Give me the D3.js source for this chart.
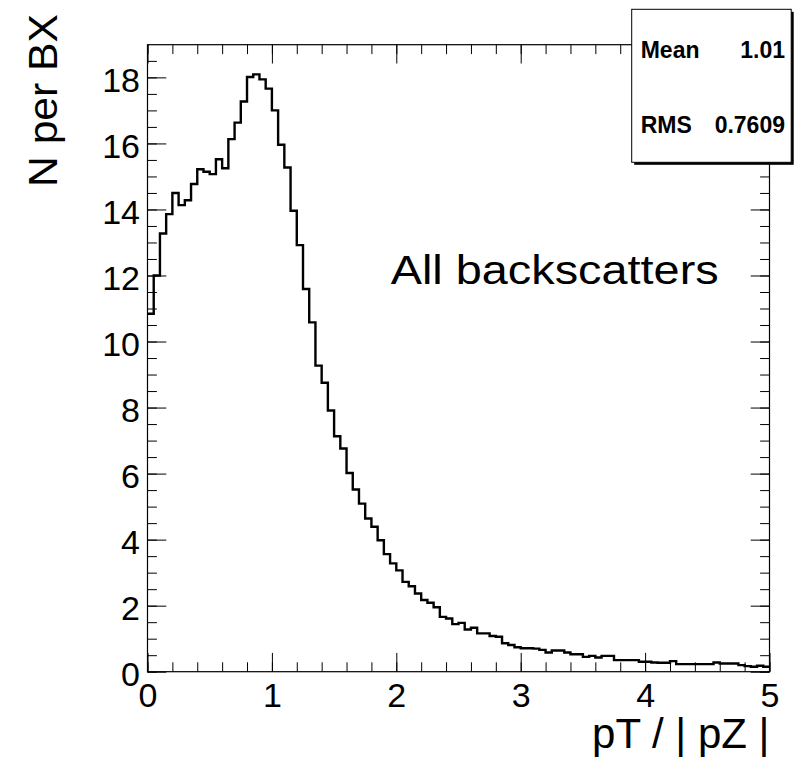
<!DOCTYPE html>
<html>
<head>
<meta charset="utf-8">
<script src="https://cdn.jsdelivr.net/npm/d3@7/dist/d3.min.js"></script>
<style>
  html, body { margin: 0; padding: 0; background: #fff; }
  svg { display: block; font-family: "Liberation Sans", Arial, Helvetica, sans-serif; }
</style>
</head>
<body>
<svg id="chart" width="796" height="767"></svg>
<script>
// Histogram of pT/|pZ| for all backscattered particles, 100 bins over [0, 5]
const xRange = [0, 5];
const counts = [
  10.84, 12.00, 13.27, 13.86, 14.50, 14.13, 14.28, 14.77, 15.22, 15.14,
  15.07, 15.52, 15.25, 16.13, 16.63, 17.27, 18.01, 18.09, 17.94, 17.66,
  17.00, 15.96, 15.27, 13.96, 12.92, 11.59, 10.58, 9.27, 8.75, 7.91,
  7.13, 6.76, 6.02, 5.52, 5.09, 4.64, 4.39, 3.98, 3.56, 3.28,
  3.07, 2.72, 2.59, 2.37, 2.17, 2.09, 1.95, 1.66, 1.61, 1.44,
  1.48, 1.28, 1.33, 1.16, 1.16, 1.08, 1.06, 0.86, 0.81, 0.74,
  0.71, 0.71, 0.70, 0.66, 0.58, 0.64, 0.64, 0.58, 0.53, 0.53,
  0.45, 0.48, 0.43, 0.48, 0.48, 0.35, 0.35, 0.35, 0.35, 0.30,
  0.30, 0.28, 0.27, 0.27, 0.32, 0.23, 0.23, 0.23, 0.23, 0.23,
  0.23, 0.28, 0.25, 0.25, 0.25, 0.20, 0.17, 0.15, 0.18, 0.15
];
const yMax = 18.99;

// Axis ticks and labels
const xMajor = [0, 1, 2, 3, 4, 5];
const xLabels = ["0", "1", "2", "3", "4", "5"];
const yMajor = [0, 2, 4, 6, 8, 10, 12, 14, 16, 18];
const yLabels = ["0", "2", "4", "6", "8", "10", "12", "14", "16", "18"];
const xMinorStep = 0.2;
const yMinorStep = 0.5;

// Titles and statistics box entries
const xTitle = "pT / | pZ |";
const yTitle = "N per BX";
const annotation = "All backscatters";
const statNames = ["Mean", "RMS"];
const statValues = ["1.01", "0.7609"];

// ---- layout ----
const frame = { left: 147.5, right: 769.5, top: 44.7, bottom: 671.7 };
const majorLen = 18.8, minorLen = 9.4;

const svg = d3.select("#chart");
const x = d3.scaleLinear().domain(xRange).range([frame.left, frame.right]);
const y = d3.scaleLinear().domain([0, yMax]).range([frame.bottom, frame.top]);

const xMinor = d3.range(xRange[0], xRange[1] + 1e-9, xMinorStep);
const yMinor = d3.range(0, yMax, yMinorStep);

function styleAxis(g) {
  g.select(".domain").remove();
  g.selectAll(".tick line").attr("stroke", "#000").attr("stroke-width", 1);
}

// bottom axis (ticks pointing up into the frame, labels below)
svg.append("g")
  .attr("transform", `translate(0,${frame.bottom})`)
  .call(d3.axisBottom(x).tickValues(xMinor).tickSize(-minorLen).tickFormat(""))
  .call(styleAxis);
svg.append("g")
  .attr("transform", `translate(0,${frame.bottom})`)
  .call(d3.axisBottom(x).tickValues(xMajor).tickSize(-majorLen).tickPadding(10.7)
        .tickFormat((d, i) => xLabels[i]))
  .call(styleAxis)
  .call(g => g.selectAll("text").attr("fill", "#000").attr("font-size", 34)
        .attr("font-family", "Liberation Sans, Arial, sans-serif"));

// top axis (ticks only)
svg.append("g")
  .attr("transform", `translate(0,${frame.top})`)
  .call(d3.axisTop(x).tickValues(xMinor).tickSize(-minorLen).tickFormat(""))
  .call(styleAxis);
svg.append("g")
  .attr("transform", `translate(0,${frame.top})`)
  .call(d3.axisTop(x).tickValues(xMajor).tickSize(-majorLen).tickFormat(""))
  .call(styleAxis);

// left axis
svg.append("g")
  .attr("transform", `translate(${frame.left},0)`)
  .call(d3.axisLeft(y).tickValues(yMinor).tickSize(-minorLen).tickFormat(""))
  .call(styleAxis);
svg.append("g")
  .attr("transform", `translate(${frame.left},0)`)
  .call(d3.axisLeft(y).tickValues(yMajor).tickSize(-majorLen).tickPadding(7.5)
        .tickFormat((d, i) => yLabels[i]))
  .call(styleAxis)
  .call(g => g.selectAll("text").attr("fill", "#000").attr("font-size", 34)
        .attr("dy", "0.42em")
        .attr("font-family", "Liberation Sans, Arial, sans-serif"));

// right axis (ticks only)
svg.append("g")
  .attr("transform", `translate(${frame.right},0)`)
  .call(d3.axisRight(y).tickValues(yMinor).tickSize(-minorLen).tickFormat(""))
  .call(styleAxis);
svg.append("g")
  .attr("transform", `translate(${frame.right},0)`)
  .call(d3.axisRight(y).tickValues(yMajor).tickSize(-majorLen).tickFormat(""))
  .call(styleAxis);

// frame
svg.append("rect")
  .attr("x", frame.left).attr("y", frame.top)
  .attr("width", frame.right - frame.left).attr("height", frame.bottom - frame.top)
  .attr("fill", "none").attr("stroke", "#000").attr("stroke-width", 1.2);

// histogram outline as a step line
const binWidth = (xRange[1] - xRange[0]) / counts.length;
const stepPts = counts.map((v, i) => [xRange[0] + i * binWidth, v]);
stepPts.push([xRange[1], counts[counts.length - 1]]);
const stepLine = d3.line()
  .x(d => x(d[0])).y(d => y(d[1]))
  .curve(d3.curveStepAfter);
svg.append("path")
  .datum(stepPts)
  .attr("d", stepLine)
  .attr("fill", "none")
  .attr("stroke", "#000")
  .attr("stroke-width", 2.4)
  .attr("stroke-linejoin", "miter");

// annotation
svg.append("text")
  .attr("x", 390.7).attr("y", 283.5)
  .attr("font-size", 41)
  .attr("textLength", 328).attr("lengthAdjust", "spacingAndGlyphs")
  .attr("fill", "#000")
  .text(annotation);

// axis titles
svg.append("text")
  .attr("x", frame.right).attr("y", 748)
  .attr("text-anchor", "end")
  .attr("font-size", 42)
  .attr("fill", "#000")
  .text(xTitle);

svg.append("text")
  .attr("transform", "translate(57,187) rotate(-90)")
  .attr("font-size", 41)
  .attr("textLength", 173).attr("lengthAdjust", "spacingAndGlyphs")
  .attr("fill", "#000")
  .text(yTitle);

// statistics box with drop shadow
const box = { x: 631.7, y: 9.3, w: 159.5, h: 153 };
svg.append("rect")
  .attr("x", box.x + 2.5).attr("y", box.y + 2.5)
  .attr("width", box.w).attr("height", box.h)
  .attr("fill", "#000");
svg.append("rect")
  .attr("x", box.x).attr("y", box.y)
  .attr("width", box.w).attr("height", box.h)
  .attr("fill", "#fff").attr("stroke", "#000").attr("stroke-width", 1);

const statRows = [58.3, 133.3];
statNames.forEach((name, i) => {
  svg.append("text")
    .attr("x", 640.7).attr("y", statRows[i])
    .attr("font-size", 23).attr("font-weight", "bold").attr("fill", "#000")
    .text(name);
  svg.append("text")
    .attr("x", 785).attr("y", statRows[i])
    .attr("text-anchor", "end")
    .attr("font-size", 23).attr("font-weight", "bold").attr("fill", "#000")
    .text(statValues[i]);
});
</script>
</body>
</html>
